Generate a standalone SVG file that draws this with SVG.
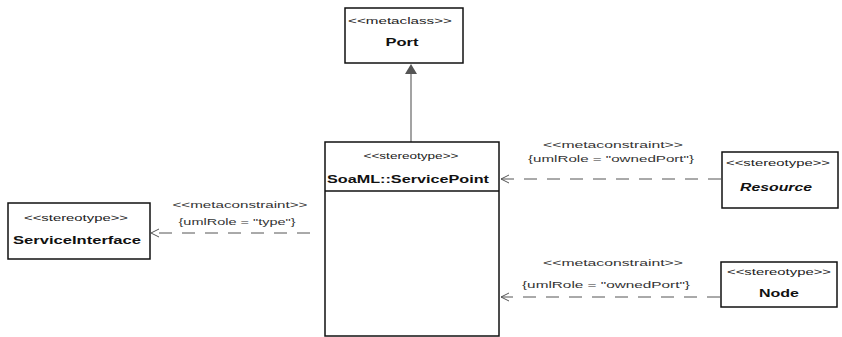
<svg xmlns="http://www.w3.org/2000/svg" width="842" height="337" viewBox="0 0 842 337">
<defs>
<style>
.box{fill:#fff;stroke:#111;stroke-width:1.5}
.st{font-family:"Liberation Sans",Arial,sans-serif;font-size:9px;fill:#222;text-anchor:middle}
.nm{font-family:"Liberation Sans",Arial,sans-serif;font-size:11px;font-weight:bold;fill:#111;text-anchor:middle}
.lbl{font-family:"Liberation Sans",Arial,sans-serif;font-size:9px;fill:#333;text-anchor:middle}
.dep{fill:none;stroke:#555;stroke-width:1;stroke-dasharray:13 10}
.head{fill:none;stroke:#555;stroke-width:1}
</style>
</defs>
<rect width="842" height="337" fill="#fff"/>
<g id="connectors">
<line x1="411" y1="74" x2="411" y2="142" stroke="#666" stroke-width="1.2"/>
<polygon points="411,64 405,74 417,74" fill="#555"/>
<line class="dep" x1="310" y1="233" x2="151" y2="233"/>
<polyline class="head" points="159,229 151,233 159,237"/>
<text class="lbl" x="240" y="208" textLength="135" lengthAdjust="spacingAndGlyphs">&lt;&lt;metaconstraint&gt;&gt;</text>
<text class="lbl" x="237" y="225" textLength="117" lengthAdjust="spacingAndGlyphs">{umlRole = "type"}</text>
<line class="dep" x1="721" y1="179" x2="501" y2="179"/>
<polyline class="head" points="509,175 501,179 509,183"/>
<text class="lbl" x="613" y="148" textLength="140" lengthAdjust="spacingAndGlyphs">&lt;&lt;metaconstraint&gt;&gt;</text>
<text class="lbl" x="611" y="162" textLength="166" lengthAdjust="spacingAndGlyphs">{umlRole = "ownedPort"}</text>
<line class="dep" x1="720" y1="297" x2="501" y2="297"/>
<polyline class="head" points="509,293 501,297 509,301"/>
<text class="lbl" x="613" y="266" textLength="140" lengthAdjust="spacingAndGlyphs">&lt;&lt;metaconstraint&gt;&gt;</text>
<text class="lbl" x="606" y="288" textLength="168" lengthAdjust="spacingAndGlyphs">{umlRole = "ownedPort"}</text>
</g>
<g id="port">
<rect class="box" x="345" y="8" width="118" height="55"/>
<text class="st" x="400" y="24" textLength="104" lengthAdjust="spacingAndGlyphs">&lt;&lt;metaclass&gt;&gt;</text>
<text class="nm" x="402" y="46" textLength="33" lengthAdjust="spacingAndGlyphs">Port</text>
</g>
<g id="servicepoint">
<rect class="box" x="325" y="142" width="174" height="194"/>
<line x1="325" y1="191" x2="499" y2="191" stroke="#111" stroke-width="1.5"/>
<text class="st" x="411" y="159" textLength="95" lengthAdjust="spacingAndGlyphs">&lt;&lt;stereotype&gt;&gt;</text>
<text class="nm" x="408" y="183" font-size="13" textLength="162" lengthAdjust="spacingAndGlyphs">SoaML::ServicePoint</text>
</g>
<g id="serviceinterface">
<rect class="box" x="8" y="203" width="142" height="56"/>
<text class="st" x="76" y="221" textLength="104" lengthAdjust="spacingAndGlyphs">&lt;&lt;stereotype&gt;&gt;</text>
<text class="nm" x="77" y="244" textLength="128" lengthAdjust="spacingAndGlyphs">ServiceInterface</text>
</g>
<g id="resource">
<rect class="box" x="722" y="152" width="116" height="56"/>
<text class="st" x="778" y="166" textLength="104" lengthAdjust="spacingAndGlyphs">&lt;&lt;stereotype&gt;&gt;</text>
<text class="nm" x="776" y="191" font-style="italic" textLength="72" lengthAdjust="spacingAndGlyphs">Resource</text>
</g>
<g id="node">
<rect class="box" x="721" y="262" width="116" height="45"/>
<text class="st" x="779" y="275" textLength="104" lengthAdjust="spacingAndGlyphs">&lt;&lt;stereotype&gt;&gt;</text>
<text class="nm" x="779" y="297" textLength="40" lengthAdjust="spacingAndGlyphs">Node</text>
</g>
</svg>
